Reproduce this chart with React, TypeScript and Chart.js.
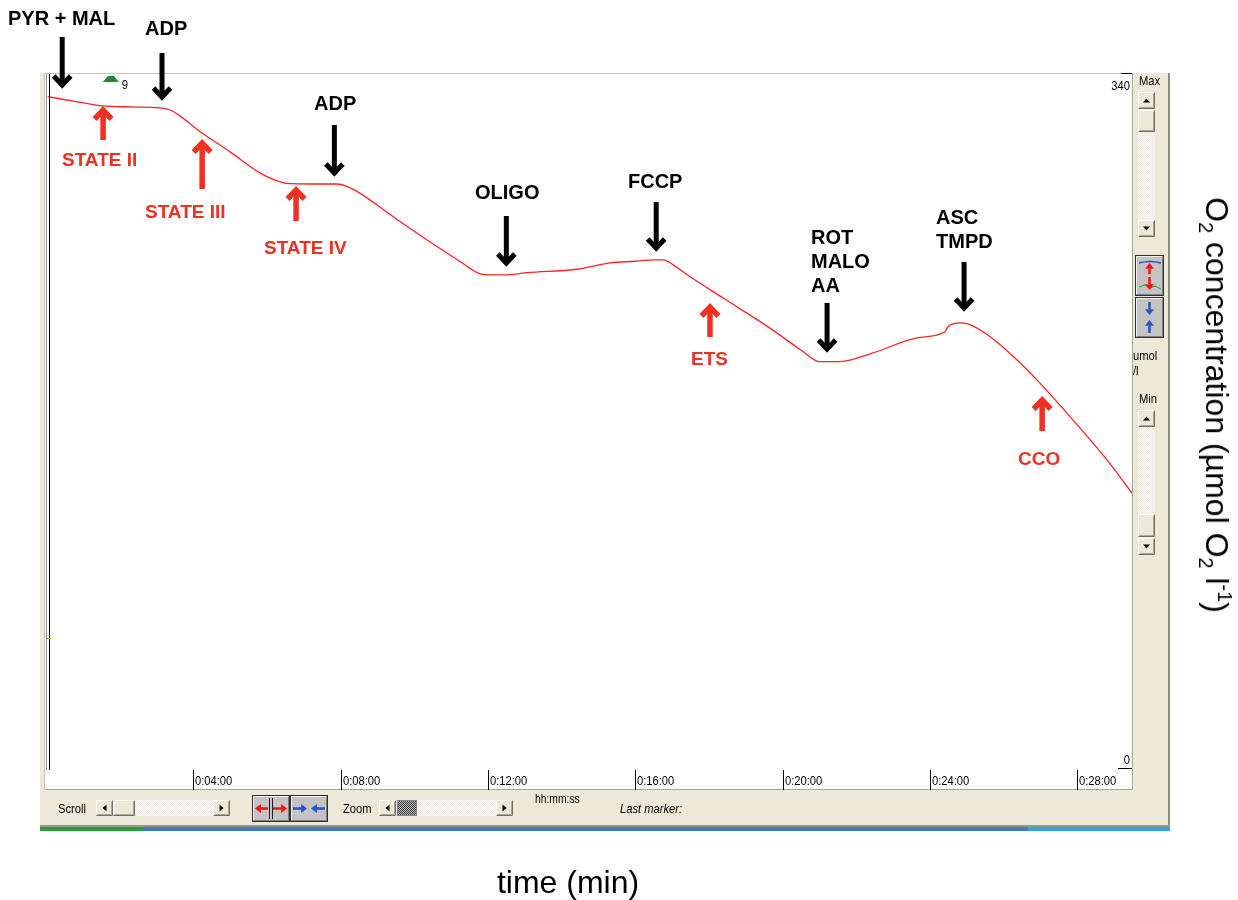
import React, { useEffect, useRef } from 'react';
import { Chart, registerables } from 'chart.js';
Chart.register(...registerables);

// ---------------- data ----------------
const timeMin = [0.05, 0.9, 1.55, 2.3, 3.1, 3.37, 3.6, 4.19, 5.0, 5.82, 6.22, 6.55, 7.2, 7.91, 8.18, 8.5, 9.43, 10.35, 11.25, 11.52, 11.79, 12.14, 12.6, 13.06, 14.42, 15.32, 16.0, 16.49, 16.76, 17.0, 17.49, 18.39, 19.74, 20.5, 21.02, 21.56, 22.46, 23.65, 24.41, 24.49, 24.82, 25.04, 25.64, 26.37, 26.99, 27.89, 28.81, 29.49];
const o2Conc = [328.4, 325.8, 323.9, 323.4, 322.9, 321.9, 319.5, 311.3, 301.4, 291.0, 287.6, 286.0, 285.7, 285.7, 284.4, 281.5, 269.7, 258.3, 247.7, 244.4, 241.7, 241.2, 241.4, 242.3, 244.0, 247.1, 247.9, 248.6, 248.6, 246.5, 240.3, 229.9, 214.2, 204.5, 198.8, 198.8, 203.1, 210.4, 213.4, 215.9, 217.8, 217.3, 211.0, 199.6, 188.3, 170.2, 150.7, 134.5];

const tickMinutes = [4, 8, 12, 16, 20, 24, 28];
const tickLabels = ['0:04:00', '0:08:00', '0:12:00', '0:16:00', '0:20:00', '0:24:00', '0:28:00'];
const yMinValue = 0;
const yMaxValue = 340;
const xMaxValue = 29.49;

const injectionLabels = [['PYR + MAL'], ['ADP'], ['ADP'], ['OLIGO'], ['FCCP'], ['ROT', 'MALO', 'AA'], ['ASC', 'TMPD']];
const injectionTimes = [0.44, 3.15, 7.83, 12.5, 16.57, 21.21, 24.93];
const stateLabels = ['STATE II', 'STATE III', 'STATE IV', 'ETS', 'CCO'];
const stateTimes = [1.55, 4.24, 6.79, 18.03, 27.05];
const markerTime = 1.76;
const markerLabel = '9';

// ---------------- layout (pixels) ----------------
const injectionArrowY = [[37, 88], [53, 100], [125, 176], [216, 266], [202, 251], [303, 352], [262, 311]];
const stateArrowY = [[107, 140], [140, 189], [187, 221], [304, 337], [397, 431]];
const injectionTextPos = [[8, 18], [145, 28], [314, 103], [475, 192], [628, 181], [811, 237], [936, 217]];
const stateTextPos = [[62, 160], [145, 212], [264, 248], [691, 359], [1018, 459]];

const RED = '#EE3124';
const UI_FONT = '"Liberation Sans", Arial, sans-serif';

const oxyPlugin = {
  id: 'oxyPlugin',
  afterDraw(chart: any) {
    const { ctx, scales } = chart;
    const x = scales.x;
    const y = scales.y;
    ctx.save();
    // left double line
    ctx.fillStyle = '#8c8c8c';
    ctx.fillRect(46, 74, 1, 696);
    ctx.fillStyle = '#000';
    ctx.fillRect(49, 74, 1, 696);
    ctx.fillStyle = '#b8b800';
    ctx.fillRect(47, 638, 4, 1);

    // x ticks
    ctx.fillStyle = '#000';
    ctx.font = `13px ${UI_FONT}`;
    ctx.textBaseline = 'middle';
    ctx.textAlign = 'left';
    tickMinutes.forEach((m, i) => {
      const px = Math.round(x.getPixelForValue(m));
      ctx.fillRect(px, 770, 1, 20);
      ctx.save();
      ctx.translate(px + 2, 781);
      ctx.scale(0.86, 1);
      ctx.fillText(tickLabels[i], 0, 0);
      ctx.restore();
    });

    // y labels
    const yTop = Math.round(y.getPixelForValue(yMaxValue));
    const yBot = Math.round(y.getPixelForValue(yMinValue));
    ctx.textAlign = 'right';
    ctx.save();
    ctx.translate(1130, yTop + 13);
    ctx.scale(0.86, 1);
    ctx.fillText(String(yMaxValue), 0, 0);
    ctx.restore();
    ctx.fillRect(1121, yTop, 11, 1);
    ctx.save();
    ctx.translate(1130, yBot - 8);
    ctx.scale(0.86, 1);
    ctx.fillText(String(yMinValue), 0, 0);
    ctx.restore();
    ctx.fillRect(1118, yBot, 14, 1);

    // green marker
    const mx = x.getPixelForValue(markerTime);
    ctx.fillStyle = '#1E8A3C';
    ctx.beginPath();
    ctx.moveTo(mx - 8, 82);
    ctx.lineTo(mx - 3, 76);
    ctx.lineTo(mx + 3, 76);
    ctx.lineTo(mx + 8, 82);
    ctx.closePath();
    ctx.fill();
    ctx.fillStyle = '#000';
    ctx.textAlign = 'left';
    ctx.save();
    ctx.translate(mx + 11, 85);
    ctx.scale(0.86, 1);
    ctx.fillText(markerLabel, 0, 0);
    ctx.restore();

    // arrows
    const drawDown = (cx: number, top: number, tip: number, color: string, w: number) => {
      ctx.strokeStyle = color;
      ctx.lineWidth = w;
      ctx.lineCap = 'butt';
      ctx.lineJoin = 'miter';
      ctx.beginPath();
      ctx.moveTo(cx, top);
      ctx.lineTo(cx, tip - 4);
      ctx.stroke();
      ctx.beginPath();
      ctx.moveTo(cx - 8.5, tip - 12);
      ctx.lineTo(cx, tip - 3);
      ctx.lineTo(cx + 8.5, tip - 12);
      ctx.stroke();
    };
    const drawUp = (cx: number, tip: number, bottom: number, color: string, w: number) => {
      ctx.strokeStyle = color;
      ctx.lineWidth = w;
      ctx.lineCap = 'butt';
      ctx.lineJoin = 'miter';
      ctx.beginPath();
      ctx.moveTo(cx, bottom);
      ctx.lineTo(cx, tip + 4);
      ctx.stroke();
      ctx.beginPath();
      ctx.moveTo(cx - 8.5, tip + 12);
      ctx.lineTo(cx, tip + 3);
      ctx.lineTo(cx + 8.5, tip + 12);
      ctx.stroke();
    };
    injectionTimes.forEach((t, i) => {
      const px = x.getPixelForValue(t);
      drawDown(px, injectionArrowY[i][0], injectionArrowY[i][1], '#000', 5);
    });
    stateTimes.forEach((t, i) => {
      const px = x.getPixelForValue(t);
      drawUp(px, stateArrowY[i][0], stateArrowY[i][1], RED, 5.5);
    });
    ctx.restore();
  },
};

// ---------------- chrome helpers ----------------
const Btn3D = ({ x, y, w, h, face = '#ECE9D8' }: any) => (
  <g>
    <rect x={x} y={y} width={w} height={h} fill={face} />
    <path d={`M${x + 0.5} ${y + h - 0.5} V${y + 0.5} H${x + w - 0.5}`} stroke="#fff" fill="none" />
    <path d={`M${x + 0.5} ${y + h - 0.5} H${x + w - 0.5} V${y + 0.5}`} stroke="#716F64" fill="none" />
    <path d={`M${x + 1.5} ${y + h - 1.5} H${x + w - 1.5} V${y + 1.5}`} stroke="#ACA899" fill="none" />
  </g>
);

const Tri = ({ cx, cy, dir }: any) => {
  let pts = '';
  if (dir === 'up') pts = `${cx - 3.5},${cy + 2} ${cx + 3.5},${cy + 2} ${cx},${cy - 2}`;
  if (dir === 'down') pts = `${cx - 3.5},${cy - 2} ${cx + 3.5},${cy - 2} ${cx},${cy + 2}`;
  if (dir === 'left') pts = `${cx + 2},${cy - 3.5} ${cx + 2},${cy + 3.5} ${cx - 2},${cy}`;
  if (dir === 'right') pts = `${cx - 2},${cy - 3.5} ${cx - 2},${cy + 3.5} ${cx + 2},${cy}`;
  return <polygon points={pts} fill="#000" />;
};

const SvgArrow = ({ x1, y1, x2, y2, color, w = 2.5, head = 4.5 }: any) => {
  const ang = Math.atan2(y2 - y1, x2 - x1);
  const bx = x2 - head * 1.3 * Math.cos(ang);
  const by = y2 - head * 1.3 * Math.sin(ang);
  const px = -Math.sin(ang) * head;
  const py = Math.cos(ang) * head;
  return (
    <g>
      <line x1={x1} y1={y1} x2={bx} y2={by} stroke={color} strokeWidth={w} />
      <polygon points={`${x2},${y2} ${bx + px},${by + py} ${bx - px},${by - py}`} fill={color} />
    </g>
  );
};

const VScroll = ({ x, y, h, thumbY, thumbH }: any) => (
  <g>
    <rect x={x} y={y} width={17} height={h} fill="url(#track)" />
    <Btn3D x={x} y={y} w={17} h={17} />
    <Tri cx={x + 8.5} cy={y + 8.5} dir="up" />
    <Btn3D x={x} y={thumbY} w={17} h={thumbH} />
    <Btn3D x={x} y={y + h - 17} w={17} h={17} />
    <Tri cx={x + 8.5} cy={y + h - 8.5} dir="down" />
  </g>
);

const HScroll = ({ x, y, w, thumbX, thumbW, checker }: any) => (
  <g>
    <rect x={x} y={y} width={w} height={16} fill="url(#track)" />
    <Btn3D x={x} y={y} w={17} h={16} />
    <Tri cx={x + 8.5} cy={y + 8} dir="left" />
    {checker ? (
      <g>
        <rect x={thumbX} y={y} width={thumbW} height={16} fill="url(#chk)" />
        <rect x={thumbX + 0.5} y={y + 0.5} width={thumbW - 1} height={15} fill="none" stroke="#808080" />
      </g>
    ) : (
      <Btn3D x={thumbX} y={y} w={thumbW} h={16} />
    )}
    <Btn3D x={x + w - 17} y={y} w={17} h={16} />
    <Tri cx={x + w - 8.5} cy={y + 8} dir="right" />
  </g>
);

const BigBtn = ({ x, y, w, h }: any) => (
  <g>
    <rect x={x + 0.5} y={y + 0.5} width={w - 1} height={h - 1} fill="#C4C4C4" stroke="#303030" />
    <path d={`M${x + 1.5} ${y + h - 2} V${y + 1.5} H${x + w - 2}`} stroke="#f4f4f4" fill="none" />
    <path d={`M${x + 1.5} ${y + h - 1.5} H${x + w - 1.5} V${y + 1.5}`} stroke="#808080" fill="none" />
  </g>
);

function Chrome() {
  return (
    <svg width={1238} height={900} style={{ position: 'absolute', left: 0, top: 0 }}>
      <defs>
        <pattern id="track" width="2" height="2" patternUnits="userSpaceOnUse">
          <rect width="2" height="2" fill="#F7F6F1" />
          <rect width="1" height="1" fill="#ECEBE4" />
          <rect x="1" y="1" width="1" height="1" fill="#ECEBE4" />
        </pattern>
        <pattern id="chk" width="2" height="2" patternUnits="userSpaceOnUse">
          <rect width="2" height="2" fill="#bcbcbc" />
          <rect width="1" height="1" fill="#3a3a3a" />
          <rect x="1" y="1" width="1" height="1" fill="#3a3a3a" />
        </pattern>
      </defs>
      {/* window */}
      <rect x={40} y={73} width={1130} height={753} fill="#ECE9D8" />
      <rect x={1168} y={73} width={2} height={754} fill="#8E8B7E" />
      <rect x={40} y={825} width={1130} height={2} fill="#9A978A" />
      <rect x={40} y={827} width={103} height={4} fill="#2F9A3C" />
      <rect x={143} y={827} width={885} height={4} fill="#4577CB" />
      <rect x={1028} y={827} width={142} height={4} fill="#2BA3E6" />
      {/* plot area */}
      <rect x={45} y={73} width={1087} height={716} fill="#FFFFFF" />
      <rect x={45} y={73} width={1087} height={1} fill="#C9C7BA" />
      <rect x={1132} y={73} width={1} height={717} fill="#A8A69A" />
      <rect x={45} y={789} width={1088} height={1} fill="#A8A69A" />
      <rect x={44} y={73} width={1} height={717} fill="#C9C7BA" />

      {/* right panel */}
      <VScroll x={1138} y={92} h={145} thumbY={110} thumbH={22} />
      <VScroll x={1138} y={410} h={145} thumbY={514} thumbH={23} />
      <BigBtn x={1135} y={255} w={29} h={41} />
      <BigBtn x={1135} y={297} w={29} h={41} />
      <path d="M1139 263 Q1150 260 1161 263" stroke="#3048D0" strokeWidth={1.3} fill="none" />
      <path d="M1139 287 L1145 285 L1150 288 L1155 286 L1161 289" stroke="#30B030" strokeWidth={1.3} fill="none" />
      <SvgArrow x1={1149.5} y1={274} x2={1149.5} y2={263} color="#FF1010" w={2.5} />
      <SvgArrow x1={1149.5} y1={277} x2={1149.5} y2={290} color="#FF1010" w={2.5} />
      <SvgArrow x1={1149.5} y1={302} x2={1149.5} y2={315} color="#2A4FC8" w={2.5} />
      <SvgArrow x1={1149.5} y1={333} x2={1149.5} y2={320} color="#2A4FC8" w={2.5} />

      {/* bottom toolbar */}
      <HScroll x={96} y={800} w={134} thumbX={113} thumbW={22} />
      <HScroll x={379} y={800} w={134} thumbX={397} thumbW={20} checker />
      <BigBtn x={252} y={795} w={38} h={27} />
      <BigBtn x={290} y={795} w={38} h={27} />
      <rect x={269} y={798} width={1} height={21} fill="#202020" />
      <rect x={272} y={798} width={1} height={21} fill="#202020" />
      <SvgArrow x1={268} y1={808.5} x2={255} y2={808.5} color="#FF1010" w={2.5} />
      <SvgArrow x1={273} y1={808.5} x2={287} y2={808.5} color="#FF1010" w={2.5} />
      <SvgArrow x1={293} y1={808.5} x2={307} y2={808.5} color="#2A4FC8" w={2.5} />
      <SvgArrow x1={325} y1={808.5} x2={311} y2={808.5} color="#2A4FC8" w={2.5} />
    </svg>
  );
}

const UiText = ({ x, y, size = 13, children, italic = false, sx = 0.86 }: any) => (
  <div
    style={{
      position: 'absolute',
      left: x,
      top: y - size * 0.6,
      fontFamily: UI_FONT,
      fontSize: size,
      lineHeight: `${size * 1.2}px`,
      whiteSpace: 'nowrap',
      transform: `scaleX(${sx})`,
      transformOrigin: 'left center',
      fontStyle: italic ? 'italic' : 'normal',
      color: '#000',
    }}
  >
    {children}
  </div>
);

const Label = ({ x, y, color, size, children }: any) => (
  <div
    style={{
      position: 'absolute',
      left: x,
      top: y - 12,
      height: 24,
      lineHeight: '24px',
      fontFamily: UI_FONT,
      fontWeight: 'bold',
      fontSize: size,
      color,
      whiteSpace: 'nowrap',
    }}
  >
    {children}
  </div>
);

export default function App() {
  const canvasRef = useRef<HTMLCanvasElement | null>(null);

  useEffect(() => {
    const canvas = canvasRef.current;
    if (!canvas) return;
    const chart = new Chart(canvas, {
      type: 'line',
      data: {
        datasets: [
          {
            data: timeMin.map((t, i) => ({ x: t, y: o2Conc[i] })),
            borderColor: '#FF2222',
            borderWidth: 1.3,
            pointRadius: 0,
            cubicInterpolationMode: 'monotone',
            fill: false,
          },
        ],
      },
      options: {
        animation: false,
        responsive: false,
        events: [],
        layout: { padding: { left: 46, top: 73, right: 106, bottom: 132 } },
        scales: {
          x: { type: 'linear', min: 0, max: xMaxValue, display: false },
          y: { type: 'linear', min: yMinValue, max: yMaxValue, display: false },
        },
        plugins: { legend: { display: false }, tooltip: { enabled: false } },
      },
      plugins: [oxyPlugin],
    } as any);
    return () => chart.destroy();
  }, []);

  return (
    <div style={{ position: 'absolute', left: 0, top: 0, width: 1238, height: 900, background: '#fff', overflow: 'hidden' }}>
      <Chrome />
      <canvas
        ref={canvasRef}
        width={1238}
        height={900}
        style={{ position: 'absolute', left: 0, top: 0, width: 1238, height: 900, pointerEvents: 'none' }}
      />
      {/* UI texts */}
      <UiText x={1139} y={81}>Max</UiText>
      <UiText x={1139} y={399}>Min</UiText>
      <UiText x={1133} y={356}>umol</UiText>
      <UiText x={1133} y={371}>/l</UiText>
      <UiText x={58} y={809}>Scroll</UiText>
      <UiText x={343} y={809}>Zoom</UiText>
      <UiText x={535} y={799} size={12}>hh:mm:ss</UiText>
      <UiText x={620} y={809} italic>Last marker:</UiText>

      {/* annotations */}
      {injectionLabels.map((lines, i) =>
        lines.map((ln, j) => (
          <Label key={`inj${i}_${j}`} x={injectionTextPos[i][0]} y={injectionTextPos[i][1] + j * 24} color="#000" size={20}>
            {ln}
          </Label>
        ))
      )}
      {stateLabels.map((ln, i) => (
        <Label key={`st${i}`} x={stateTextPos[i][0]} y={stateTextPos[i][1]} color={RED} size={19}>
          {ln}
        </Label>
      ))}

      {/* axis titles */}
      <div
        style={{
          position: 'absolute',
          left: 568,
          top: 882,
          transform: 'translate(-50%, -50%)',
          fontFamily: UI_FONT,
          fontSize: 32,
          lineHeight: '36px',
          whiteSpace: 'nowrap',
          color: '#000',
        }}
      >
        time (min)
      </div>
      <div
        style={{
          position: 'absolute',
          left: 1215,
          top: 405,
          transform: 'translate(-50%, -50%) rotate(90deg)',
          fontFamily: UI_FONT,
          fontSize: 32,
          lineHeight: '36px',
          whiteSpace: 'nowrap',
          color: '#000',
        }}
      >
        O<span style={{ fontSize: '0.62em', position: 'relative', top: '0.35em' }}>2</span> concentration (µmol O
        <span style={{ fontSize: '0.62em', position: 'relative', top: '0.35em' }}>2</span> l
        <span style={{ fontSize: '0.62em', position: 'relative', top: '-0.6em' }}>-1</span>)
      </div>
    </div>
  );
}
